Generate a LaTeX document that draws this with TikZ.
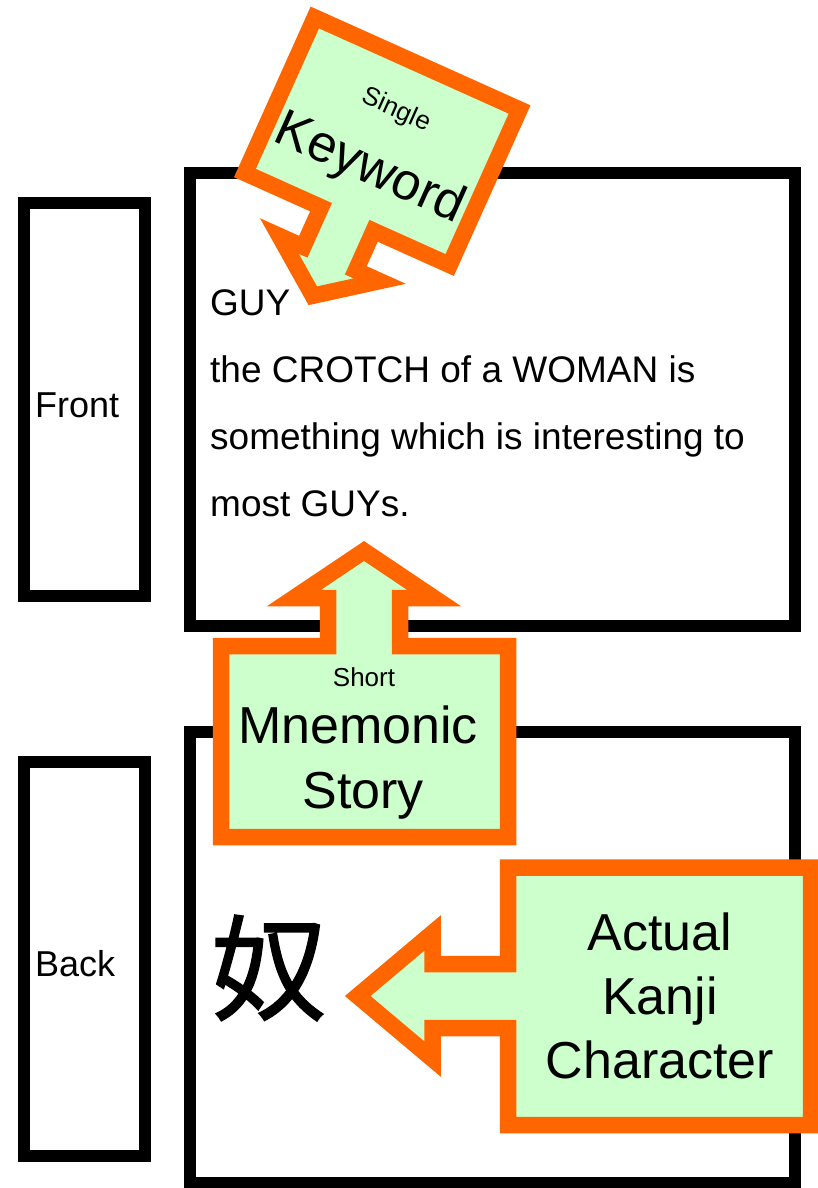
\documentclass[tikz,border=0pt]{standalone}
\usepackage{fontspec}
\setmainfont{Liberation Sans}
\newfontfamily\cjk[FakeBold=1.2]{Noto Sans CJK JP}

\definecolor{calloutfill}{HTML}{CCFFCC}
\definecolor{calloutedge}{HTML}{FF6600}

\begin{document}
\begin{tikzpicture}[x=1pt, y=-1pt,
  card/.style={draw=black, line width=11.5pt, fill=white, inner sep=0pt, outer sep=0pt},
  callout/.style={draw=calloutedge, fill=calloutfill, line width=16.5pt, line join=miter, miter limit=10},
  sidelabel/.style={font=\fontsize{36}{36}\selectfont, anchor=base west, inner sep=0pt},
  cardtext/.style={font=\fontsize{37}{37}\selectfont, anchor=base west, inner sep=0pt},
  bigtext/.style={font=\fontsize{52}{52}\selectfont, anchor=base, inner sep=0pt},
  smalltext/.style={font=\fontsize{26}{26}\selectfont, anchor=base, inner sep=0pt}
]
\useasboundingbox (0,0) rectangle (817,1188);

% card outlines: side views and faces
\node[card, minimum width=121pt, minimum height=393pt] (frontside) at (84.5,399.5) {};
\node[card, minimum width=605pt, minimum height=453pt] (frontcard) at (492.5,399.5) {};
\node[card, minimum width=121pt, minimum height=394pt] (backside) at (84.5,959) {};
\node[card, minimum width=605pt, minimum height=451pt] (backcard) at (492.5,957.5) {};

\node[sidelabel] (frontlabel) at (35,417) {Front};
\node[sidelabel] (backlabel) at (35,976) {Back};

% front face text
\node[cardtext] (line1) at (210,315) {GUY};
\node[cardtext] (line2) at (210,382) {the CROTCH of a WOMAN is};
\node[cardtext] (line3) at (210,449) {something which is interesting to};
\node[cardtext] (line4) at (210,516) {most GUYs.};

% back face kanji
\node[font=\cjk\fontsize{115}{115}\selectfont, inner sep=0pt] (kanji) at (268,968) {奴};

% tilted keyword callout
\begin{scope}[shift={(382.25,141.25)}, rotate=-24.2]
  \draw[callout] (-112.25,-85.25) -- (112.25,-85.25) -- (112.25,85.25)
    -- (28.8,85.25) -- (28.8,128.6) -- (55,128.6) -- (0,169.4)
    -- (-55,128.6) -- (-28.8,128.6) -- (-28.8,85.25) -- (-112.25,85.25) -- cycle;
  \node[smalltext, rotate=-24.2] (single) at (0,-27) {Single};
  \node[bigtext, rotate=-24.2] (keyword) at (0,44.5) {Keyword};
\end{scope}

% mnemonic callout pointing up
\draw[callout] (221,837) -- (221,646) -- (328,646) -- (328,598) -- (294,598)
  -- (364,551) -- (434,598) -- (400,598) -- (400,646) -- (508,646)
  -- (508,837) -- cycle;
\node[smalltext] (short) at (364,686) {Short};
\node[bigtext] (mnemonic) at (358,743) {Mnemonic};
\node[bigtext] (story) at (363,808) {Story};

% kanji callout pointing left
\draw[callout] (508,867.5) -- (811,867.5) -- (811,1125) -- (508,1125)
  -- (508,1028) -- (432.5,1028) -- (432.5,1059) -- (357.7,996)
  -- (432.5,933) -- (432.5,964) -- (508,964) -- cycle;
\node[bigtext] (actual) at (660,950) {Actual};
\node[bigtext] (kanjiword) at (660,1014) {Kanji};
\node[bigtext] (character) at (660,1078) {Character};
\end{tikzpicture}
\end{document}
